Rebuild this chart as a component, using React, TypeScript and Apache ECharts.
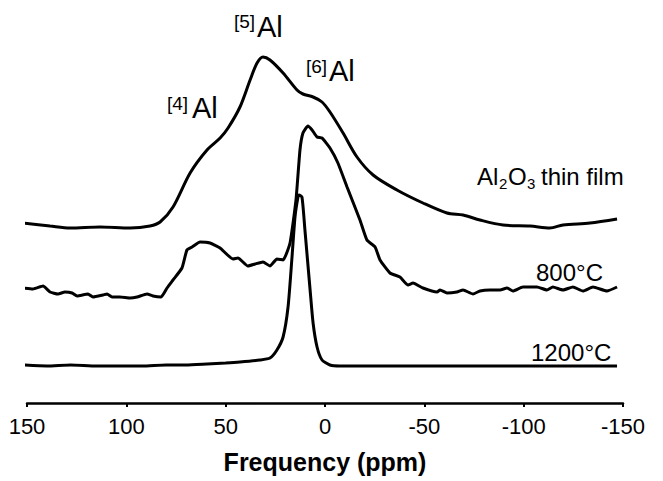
import React, { useEffect, useRef } from "react";
import * as echarts from "echarts";

// Chemical shift (ppm) and intensity (arbitrary units)
const filmPpm = [152, 138.4, 128.3, 113.2, 98.1, 88.1, 83.0, 76.5, 67.9, 59.4, 52.8, 48.8, 42.8, 37.7, 34.2, 31.2, 27.7, 21.1, 14.1, 11.1, 6.0, 1.5, -2.5, -9.1, -16.1, -24.2, -36.2, -49.3, -61.4, -69.5, -78.0, -89.6, -103.2, -113.2, -119.8, -133.4, -147.0];
const filmInt = [180, 177, 175, 176, 175, 177, 181, 196, 230, 253, 265, 275, 296, 323, 340, 346, 343, 330, 313, 309, 306, 301, 291, 270, 246, 228, 213, 200, 190, 188, 183, 178, 177, 175, 178, 180, 184];

const c800Ppm = [152.0, 147.0, 141.9, 138.4, 134.4, 130.9, 127.3, 124.8, 119.3, 116.8, 111.7, 109.7, 107.2, 103.2, 98.1, 94.6, 89.6, 86.6, 82.5, 79.5, 76.5, 72.0, 69.5, 66.9, 62.9, 57.9, 52.8, 46.3, 43.8, 38.8, 35.2, 31.2, 27.7, 24.2, 21.1, 17.6, 14.6, 12.6, 11.1, 8.6, 6.5, 4.0, 1.5, -2.5, -6.5, -11.1, -17.6, -21.1, -25.2, -27.7, -32.7, -37.7, -41.8, -44.3, -49.3, -56.4, -57.9, -61.4, -66.4, -69.5, -74.5, -78.0, -83.0, -88.1, -91.6, -94.6, -99.6, -106.7, -111.7, -114.7, -119.8, -124.8, -129.8, -134.9, -141.9, -147.0];
const c800Int = [115, 114, 117, 111, 109, 111, 110, 107, 109, 106, 108, 109, 106, 106, 105, 106, 109, 107, 106, 115, 123, 135, 153, 156, 161, 160, 155, 144, 145, 137, 139, 141, 137, 144, 143, 160, 203, 253, 270, 277, 273, 266, 265, 255, 240, 216, 183, 163, 156, 143, 130, 126, 118, 120, 115, 111, 113, 110, 111, 113, 109, 112, 113, 113, 115, 112, 116, 116, 113, 116, 113, 116, 112, 116, 112, 116];

const c1200Ppm = [152, 140, 128, 115, 103, 92, 80, 70, 59.4, 50, 42.8, 32.7, 27.7, 24.2, 21.1, 18.6, 16.6, 15.1, 13.6, 13.1, 11.6, 10.1, 7.5, 6.0, 4.0, 1.5, -2.5, -7.5, -20, -35, -50, -65, -80, -95, -110, -125, -140, -147];
const c1200Int = [38, 37, 38, 37, 37, 37, 38, 38, 39, 40, 41, 43, 45, 53, 66, 96, 146, 186, 206, 208, 206, 173, 113, 80, 56, 43, 38, 37, 37, 37, 37, 37, 37, 37, 37, 37, 37, 37];

const xTicks = { min: -150, max: 150, interval: 50 };
const xTitle = "Frequency (ppm)";

const FONT = "'Liberation Sans', Arial, Helvetica, sans-serif";

function pairs(xs: number[], ys: number[]) {
  return xs.map((x, i) => [x, ys[i]]);
}

export default function App() {
  const ref = useRef<HTMLDivElement>(null);
  useEffect(() => {
    if (!ref.current) return;
    const chart = echarts.init(ref.current, null, { renderer: "svg" });
    const lineStyle = { color: "#000", width: 3 };
    const txt = (text: string, x: number, y: number, size: number, extra: any = {}) => ({
      type: "text",
      x,
      y,
      style: {
        text,
        fontSize: size,
        fontFamily: FONT,
        fill: "#000",
        align: "left",
        verticalAlign: "middle",
        ...extra,
      },
    });
    chart.setOption({
      animation: false,
      backgroundColor: "#fff",
      grid: { left: 27, right: 40, top: 4, bottom: 78 },
      xAxis: {
        type: "value",
        inverse: true,
        min: xTicks.min,
        max: xTicks.max,
        interval: xTicks.interval,
        name: xTitle,
        nameLocation: "middle",
        nameGap: 46,
        nameTextStyle: { fontSize: 25, fontWeight: "bold", fontFamily: FONT, color: "#000" },
        axisLine: { show: true, lineStyle: { color: "#000", width: 2.5 } },
        axisTick: { show: true, length: 4, lineStyle: { color: "#000", width: 2 } },
        axisLabel: { fontSize: 22, fontFamily: FONT, color: "#000", margin: 12 },
        splitLine: { show: false },
      },
      yAxis: {
        type: "value",
        min: 0,
        max: 399,
        show: false,
        splitLine: { show: false },
      },
      series: [
        { type: "line", data: pairs(filmPpm, filmInt), showSymbol: false, smooth: 0.3, clip: false, lineStyle },
        { type: "line", data: pairs(c800Ppm, c800Int), showSymbol: false, smooth: 0.15, clip: false, lineStyle },
        { type: "line", data: pairs(c1200Ppm, c1200Int), showSymbol: false, smooth: 0.2, clip: false, lineStyle },
      ],
      graphic: [
        txt("[5]", 234, 21, 19),
        txt("Al", 257, 27, 29),
        txt("[4]", 167, 103, 19),
        txt("Al", 192, 108, 29),
        txt("[6]", 306, 66, 19),
        txt("Al", 329, 71, 29),
        txt("Al", 477, 176, 24),
        txt("2", 499, 183, 15),
        txt("O", 508, 176, 24),
        txt("3", 527, 183, 15),
        txt("thin film", 541, 176, 24),
        txt("800°C", 536, 272, 24),
        txt("1200°C", 531, 352, 24),
      ],
    });
    return () => chart.dispose();
  }, []);
  return (
    <div
      ref={ref}
      style={{ position: "absolute", left: 0, top: 0, width: 663, height: 481, background: "#fff" }}
    />
  );
}
